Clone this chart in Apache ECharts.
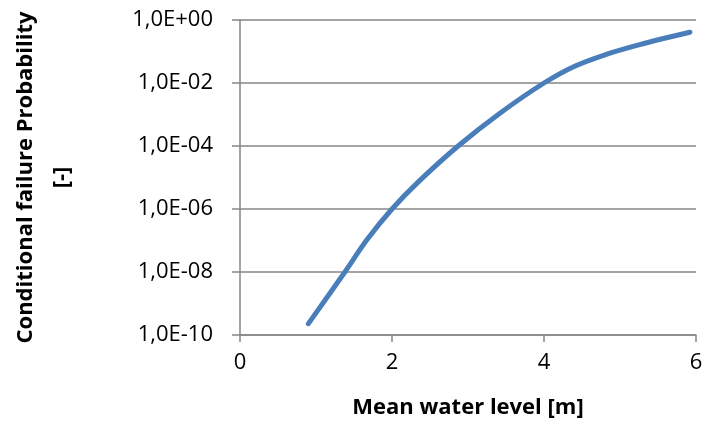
<!DOCTYPE html>
<html><head><meta charset="utf-8">
<script src="https://cdn.jsdelivr.net/npm/echarts@6/dist/echarts.min.js"></script>
<style>html,body{margin:0;padding:0;background:#fff}#c{width:704px;height:423px}</style>
</head><body><div id="c"></div>
<script>
const waterLevel = [0.90, 1.38, 1.67, 2.00, 2.35, 2.87, 3.42, 4.00, 4.39, 4.82, 5.26, 5.53, 5.92];
const failureProb = [2.3e-10, 1.0e-8, 1.05e-7, 1.0e-6, 7.4e-6, 1.0e-4, 1.1e-3, 1.0e-2, 3.3e-2, 8.1e-2, 0.166, 0.245, 0.41];
const xTitle = 'Mean water level [m]';
const yTitle = 'Conditional failure Probability\n[-]';

function fmt(v){
  const e = Math.round(Math.log10(v));
  const s = e < 0 ? '-' : '+';
  const a = Math.abs(e);
  return '1,0E' + s + (a < 10 ? '0' + a : a);
}
const font = 'Open Sans';
const chart = echarts.init(document.getElementById('c'));
chart.setOption({
  animation: false,
  grid: {left: 240, right: 8, top: 20, bottom: 88, outerBoundsMode: 'none', containLabel: false},
  xAxis: {
    type: 'value', min: 0, max: 6, interval: 2,
    name: xTitle, nameLocation: 'middle', nameGap: 62,
    nameTextStyle: {fontFamily: font, fontSize: 22, fontWeight: 'bold', color: '#000'},
    axisLine: {lineStyle: {color: '#868686', width: 1.5}},
    axisTick: {show: true, length: 7, lineStyle: {color: '#868686', width: 1.5}},
    axisLabel: {fontFamily: font, fontSize: 22, color: '#000', margin: 17},
    splitLine: {show: false}
  },
  yAxis: {
    type: 'log', logBase: 10, min: 1e-10, max: 1, interval: 2,
    name: yTitle, nameLocation: 'middle', nameGap: 160, nameRotate: 90,
    nameTextStyle: {fontFamily: font, fontSize: 22, fontWeight: 'bold', color: '#000', lineHeight: 36, align: 'center'},
    axisLine: {show: true, lineStyle: {color: '#868686', width: 1.5}},
    axisTick: {show: true, length: 8, lineStyle: {color: '#868686', width: 1.5}},
    axisLabel: {fontFamily: font, fontSize: 22, color: '#000', margin: 27, formatter: fmt},
    splitLine: {show: true, lineStyle: {color: '#868686', width: 1.5}}
  },
  series: [{
    type: 'line', smooth: 0.35, showSymbol: false,
    data: waterLevel.map((x, i) => [x, failureProb[i]]),
    lineStyle: {color: '#4A7EBB', width: 5, cap: 'round'}
  }]
});
</script></body></html>
